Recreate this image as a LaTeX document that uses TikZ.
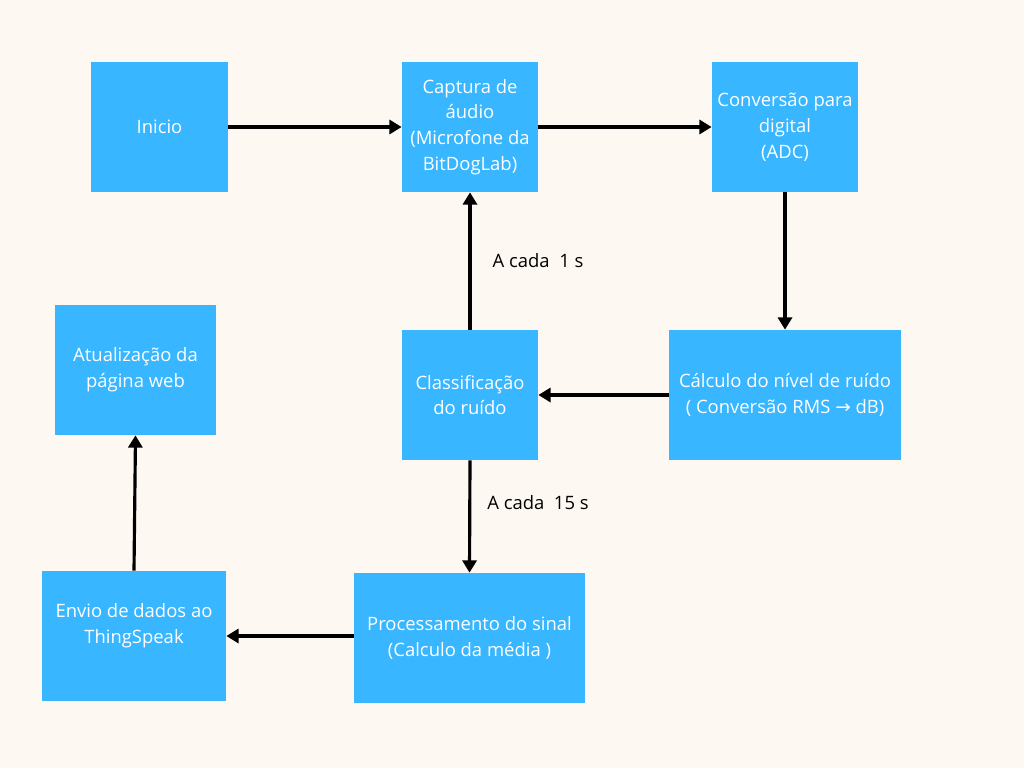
\documentclass[tikz,border=0pt]{standalone}
\usepackage{fontspec}
\setmainfont{Open Sans}
\newfontfamily\symfont{DejaVu Sans}
\usetikzlibrary{arrows.meta}
\definecolor{fundo}{HTML}{FEF8F2}
\definecolor{caixa}{HTML}{38B6FF}
\tikzset{
  bloco/.style={fill=caixa, text=white, align=center, inner sep=0pt,
    minimum height=2.6cm, font=\fontsize{10.5}{14.7}\selectfont},
  seta/.style={line width=1.8pt, -{Triangle[length=7pt,width=8pt]}},
  rotulo/.style={font=\fontsize{10.5}{14.7}\selectfont}
}
\begin{document}
\begin{tikzpicture}[x=0.02cm,y=-0.02cm]
  \fill[fundo] (0,0) rectangle (1024,768);
  \useasboundingbox (0,0) rectangle (1024,768);
  % linha de cima
  \node[bloco, minimum width=2.74cm] (inicio) at (159.5,127) {Inicio};
  \node[bloco, minimum width=2.72cm] (captura) at (470,127) {Captura de\\áudio\\(Microfone da\\BitDogLab)};
  \node[bloco, minimum width=2.92cm] (conversao) at (785,127) {Conversão para\\digital\\ (ADC)};
  % linha do meio
  \node[bloco, minimum width=3.22cm] (atualizacao) at (135.5,370) {Atualização da\\página web};
  \node[bloco, minimum width=2.72cm] (classificacao) at (470,395) {Classificação\\do ruído};
  \node[bloco, minimum width=4.64cm] (calculo) at (785,395) {Cálculo do nível de ruído\\ ( Conversão RMS {\symfont→} dB)};
  % linha de baixo
  \node[bloco, minimum width=3.68cm] (envio) at (134,636) {Envio de dados ao\\ThingSpeak\\ \mbox{}};
  \node[bloco, minimum width=4.62cm] (processamento) at (469.5,638) {Processamento do sinal\\(Calculo da média )};
  % rotulos
  \node[rotulo] (cada1) at (538,261) {A cada\ \ 1 s};
  \node[rotulo] (cada15) at (538,503) {A cada\ \ 15 s};
  % setas
  \draw[seta] (inicio.east) -- (captura.west);
  \draw[seta] (captura.east) -- (conversao.west);
  \draw[seta] (conversao.south) -- (calculo.north);
  \draw[seta] (calculo.west) -- (classificacao.east);
  \draw[seta] (classificacao.north) -- (captura.south);
  \draw[seta] (classificacao.south) -- (processamento.north);
  \draw[seta] (processamento.west |- envio.east) -- (envio.east);
  \draw[seta] (envio.north) -- (atualizacao.south);
\end{tikzpicture}
\end{document}
